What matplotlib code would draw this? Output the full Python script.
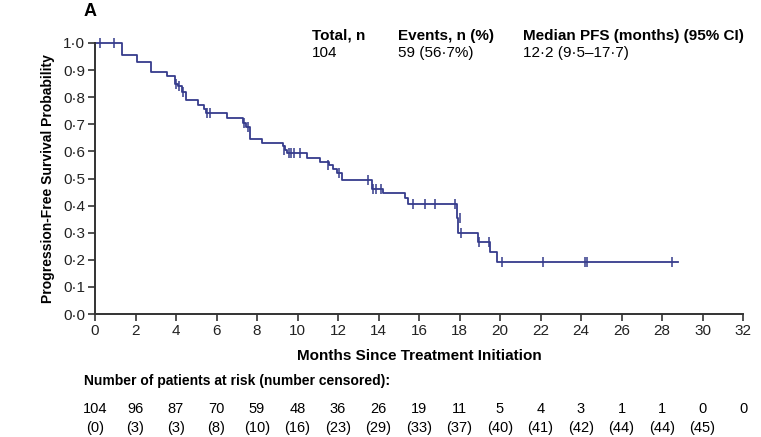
import matplotlib
matplotlib.use('Agg')
import matplotlib.pyplot as plt
import matplotlib.transforms as mtransforms

plt.rcParams['font.family'] = ['Liberation Sans', 'DejaVu Sans']

# step curve: time of each drop and survival after it
step_t = [0, 1.32, 2.07, 2.75, 3.56, 3.95, 4.1, 4.3, 4.5, 5.1, 5.4, 5.5, 6.5,
          7.3, 7.45, 7.65, 8.23, 9.28, 9.4, 9.5, 10.45, 11.1, 11.55, 11.75,
          11.95, 12.2, 13.66, 14.2, 15.3, 15.46, 17.86, 17.94, 18.93, 19.5, 19.87]
step_s = [1.0, 0.955, 0.93, 0.894, 0.88, 0.85, 0.84, 0.82, 0.79, 0.77, 0.755,
          0.74, 0.725, 0.705, 0.69, 0.645, 0.632, 0.62, 0.605, 0.594, 0.576,
          0.562, 0.55, 0.535, 0.52, 0.494, 0.463, 0.445, 0.427, 0.406, 0.353,
          0.30, 0.267, 0.23, 0.193]
t_end = 28.8

# censor marks
cens_t = [0.25, 0.95, 4.0, 4.15, 4.35, 5.55, 5.7, 7.35, 7.55, 9.35, 9.6, 9.7,
          9.85, 10.1, 11.5, 12.05, 13.5, 13.75, 13.9, 14.1, 15.7, 16.3, 16.8,
          17.8, 18.0, 18.05, 18.95, 19.45, 20.1, 22.1, 24.2, 24.3, 28.5]
cens_s = [1.0, 1.0, 0.85, 0.84, 0.82, 0.74, 0.74, 0.705, 0.69, 0.605, 0.594,
          0.594, 0.594, 0.594, 0.55, 0.52, 0.494, 0.463, 0.463, 0.463, 0.406,
          0.406, 0.406, 0.406, 0.353, 0.30, 0.267, 0.267, 0.193, 0.193, 0.193,
          0.193, 0.193]

risk_t = list(range(0, 34, 2))
at_risk = ['104', '96', '87', '70', '59', '48', '36', '26', '19', '11', '5',
           '4', '3', '1', '1', '0', '0']
censored = ['(0)', '(3)', '(3)', '(8)', '(10)', '(16)', '(23)', '(29)', '(33)',
            '(37)', '(40)', '(41)', '(42)', '(44)', '(44)', '(45)', '']

y_ticks = [i / 10 for i in range(11)]
y_labels = ['%d·%d' % (i // 10, i % 10) for i in range(11)]

W, H = 761, 437
fig = plt.figure(figsize=(W / 100, H / 100), dpi=100)
ax = fig.add_axes([95 / W, 1 - 314 / H, (743 - 95) / W, (314 - 43) / H])

line_col = '#363c8c'
ax.step(step_t + [t_end], step_s + [step_s[-1]], where='post',
        color=line_col, lw=1.3, clip_on=False)
ax.plot(cens_t, cens_s, ls='none', marker='|', ms=7, mew=1.1,
        color=line_col, clip_on=False)

ax.set_xlim(0, 32)
ax.set_ylim(0, 1.0)
ax.set_xticks(risk_t)
ax.set_yticks(y_ticks)
ax.set_yticklabels(y_labels)
for s in ['top', 'right']:
    ax.spines[s].set_visible(False)
for s in ['left', 'bottom']:
    ax.spines[s].set_linewidth(1.4)
    ax.spines[s].set_color('#333333')
ax.tick_params(direction='out', length=5, width=1.2, color='#333333',
               labelsize=11, labelcolor='#222222', pad=2)

ax.set_xlabel('Months Since Treatment Initiation', fontsize=11,
              fontweight='bold', labelpad=8)
ax.set_ylabel('Progression-Free Survival Probability', fontsize=10,
              fontweight='bold', labelpad=6)

def fx(px):
    return px / W

def fy(py):
    return 1 - py / H

fig.text(fx(84), fy(11), 'A', fontsize=13, fontweight='bold', va='center')

headers = [(312, 'Total, n', '104'),
           (398, 'Events, n (%)', '59 (56·7%)'),
           (523, 'Median PFS (months) (95% CI)', '12·2 (9·5–17·7)')]
for px, h, v in headers:
    fig.text(fx(px), fy(36), h, fontsize=11, fontweight='bold', va='center')
    fig.text(fx(px), fy(53), v, fontsize=11, va='center')

fig.text(fx(84), fy(381), 'Number of patients at risk (number censored):',
         fontsize=10, fontweight='bold', va='center')

trans = mtransforms.blended_transform_factory(ax.transData, fig.transFigure)
for t, n, c in zip(risk_t, at_risk, censored):
    ax.text(t, fy(409), n, transform=trans, ha='center', va='center',
            fontsize=10.5, clip_on=False)
    ax.text(t, fy(428), c, transform=trans, ha='center', va='center',
            fontsize=10.5, clip_on=False)

fig.savefig('out.png', dpi=100)
